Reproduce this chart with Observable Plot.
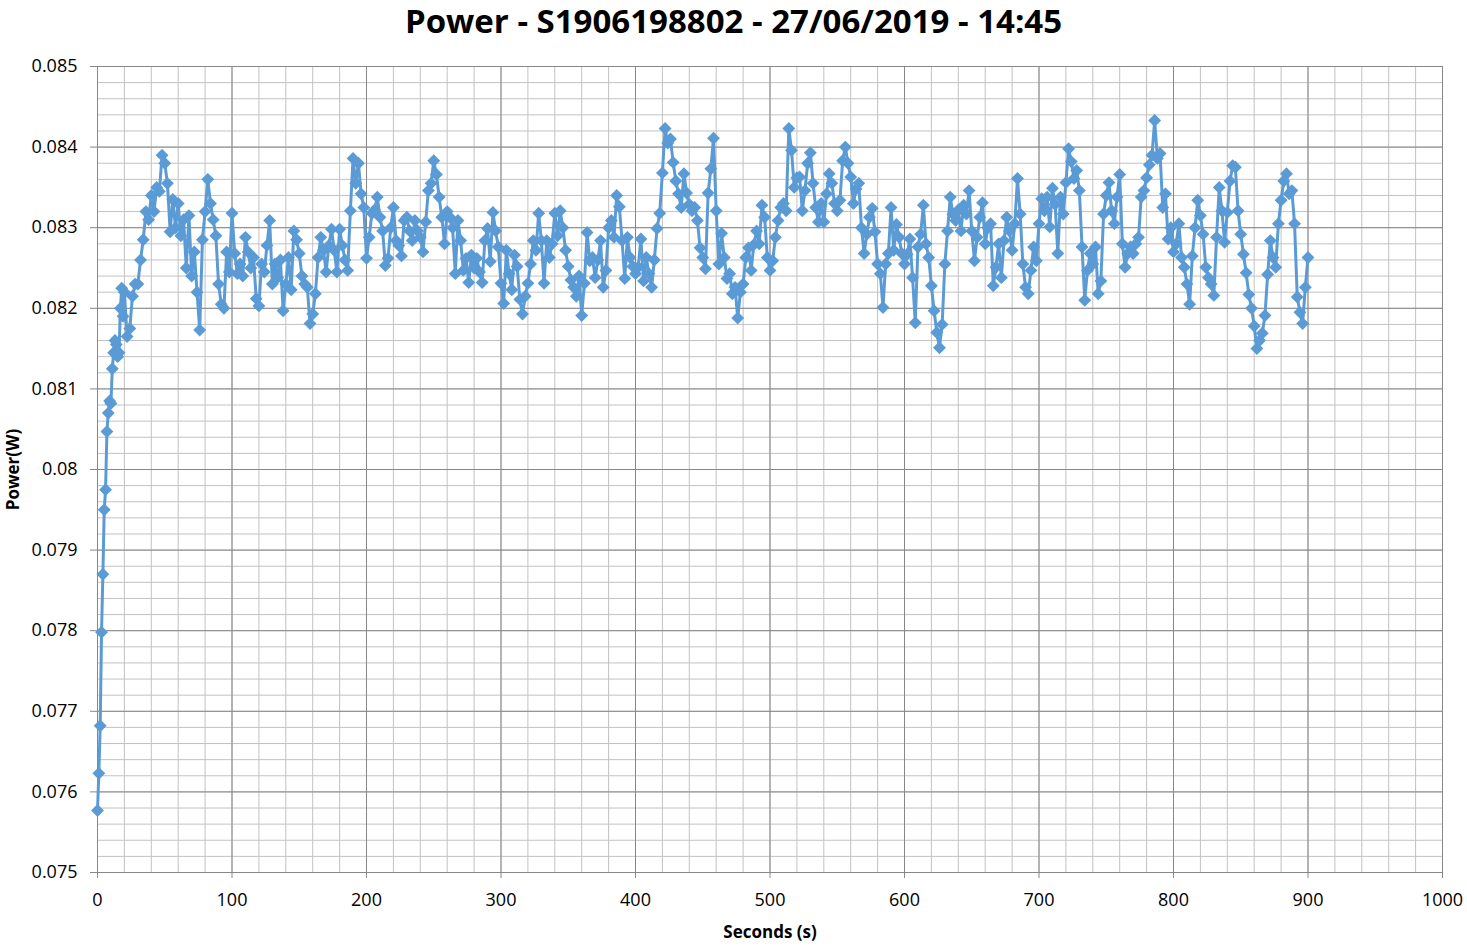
<!DOCTYPE html>
<html><head><meta charset="utf-8">
<script src="https://cdn.jsdelivr.net/npm/d3@7"></script>
<script src="https://cdn.jsdelivr.net/npm/@observablehq/plot@0.6"></script>
<style>
body{margin:0;background:#fff;font-family:"Open Sans",sans-serif;}
#title{height:46px;line-height:42px;text-align:center;font-weight:bold;font-size:33px;color:#000;white-space:nowrap;overflow:visible;}
</style></head><body>
<div id="title">Power - S1906198802 - 27/06/2019 - 14:45</div>
<div id="chart"></div>
<script>
// Power in mW, 1-second samples for t = 0..19 s
const rampPower_mW = [75.77, 76.23, 76.82, 77.98, 78.7, 79.5, 79.75, 80.47, 80.7, 80.85,
  80.82, 81.25, 81.45, 81.6, 81.55, 81.4, 81.45, 82.0, 82.25, 81.9];
// Power in mW, 2-second samples for t = 20..900 s
const power_mW = [
  82.2, 81.65, 81.75, 82.15, 82.3, 82.3, 82.6, 82.85, 83.2, 83.1,      // 20
  83.4, 83.2, 83.5, 83.45, 83.9, 83.8, 83.55, 82.95, 83.35, 83.0,      // 40
  83.3, 82.9, 83.1, 82.5, 83.15, 82.4, 82.7, 82.2, 81.73, 82.85,       // 60
  83.2, 83.6, 83.3, 83.1, 82.9, 82.3, 82.05, 82.0, 82.7, 82.45,        // 80
  83.18, 82.68, 82.43, 82.55, 82.4, 82.88, 82.7, 82.5, 82.63, 82.12,   // 100
  82.03, 82.55, 82.45, 82.78, 83.09, 82.3, 82.55, 82.38, 82.6, 81.97,  // 120
  82.3, 82.63, 82.23, 82.96, 82.85, 82.68, 82.4, 82.3, 82.26, 81.81,   // 140
  81.93, 82.18, 82.63, 82.88, 82.72, 82.45, 82.78, 82.98, 82.72, 82.45,// 160
  82.98, 82.78, 82.6, 82.47, 83.21, 83.86, 83.55, 83.8, 83.42, 83.25,  // 180
  82.62, 82.88, 83.18, 83.22, 83.38, 83.13, 82.96, 82.53, 82.62, 83.0, // 200
  83.25, 82.84, 82.78, 82.65, 83.09, 83.13, 82.96, 82.84, 83.09, 82.96,// 220
  82.88, 82.7, 83.07, 83.46, 83.55, 83.83, 83.66, 83.38, 83.13, 82.8,  // 240
  83.2, 83.13, 83.0, 82.43, 83.09, 82.84, 82.47, 82.62, 82.32, 82.66,  // 260
  82.5, 82.62, 82.45, 82.32, 82.84, 82.99, 82.58, 83.19, 82.96, 82.76, // 280
  82.31, 82.06, 82.72, 82.43, 82.23, 82.66, 82.52, 82.11, 81.93, 82.15,// 300
  82.31, 82.55, 82.84, 82.72, 83.18, 82.84, 82.31, 82.84, 82.63, 82.8, // 320
  83.18, 82.9, 83.21, 83.0, 82.72, 82.52, 82.35, 82.26, 82.15, 82.4,   // 340
  81.91, 82.31, 82.94, 82.59, 82.63, 82.38, 82.6, 82.84, 82.26, 82.47, // 360
  83.0, 83.09, 82.88, 83.4, 83.26, 82.84, 82.37, 82.88, 82.63, 82.52,  // 380
  82.43, 82.51, 82.86, 82.34, 82.63, 82.43, 82.26, 82.6, 82.99, 83.18, // 400
  83.68, 84.23, 84.05, 84.1, 83.81, 83.58, 83.42, 83.25, 83.67, 83.43, // 420
  83.29, 83.21, 83.25, 83.09, 82.75, 82.63, 82.49, 83.43, 83.73, 84.11,// 440
  83.21, 82.55, 82.93, 82.63, 82.37, 82.43, 82.18, 82.26, 81.88, 82.2, // 460
  82.3, 82.63, 82.75, 82.47, 82.79, 82.96, 82.8, 83.28, 83.13, 82.63,  // 480
  82.47, 82.59, 82.88, 83.09, 83.25, 83.3, 83.21, 84.23, 83.96, 83.5,  // 500
  83.62, 83.63, 83.21, 83.46, 83.8, 83.93, 83.55, 83.25, 83.07, 83.3,  // 520
  83.07, 83.42, 83.67, 83.55, 83.3, 83.21, 83.34, 83.83, 84.0, 83.8,   // 540
  83.63, 83.3, 83.48, 83.55, 83.0, 82.68, 82.92, 83.13, 83.24, 82.95,  // 560
  82.55, 82.43, 82.01, 82.55, 82.68, 83.25, 82.72, 83.04, 82.88, 82.68,// 580
  82.55, 82.67, 82.86, 82.38, 81.82, 82.76, 82.92, 83.28, 82.8, 82.63, // 600
  82.28, 81.97, 81.7, 81.51, 81.8, 82.55, 82.96, 83.38, 83.17, 83.09,  // 620
  83.22, 82.96, 83.28, 83.17, 83.46, 82.96, 82.59, 82.88, 83.13, 83.31,// 640
  82.8, 83.0, 83.05, 82.28, 82.51, 82.8, 82.38, 82.84, 83.13, 82.96,   // 660
  82.72, 83.05, 83.61, 83.17, 82.55, 82.26, 82.18, 82.47, 82.76, 82.59,// 680
  83.05, 83.36, 83.21, 83.38, 83.01, 83.49, 83.29, 82.68, 83.38, 83.17,// 700
  83.56, 83.98, 83.82, 83.61, 83.71, 83.46, 82.76, 82.1, 82.47, 82.68, // 720
  82.55, 82.76, 82.18, 82.34, 83.17, 83.4, 83.56, 83.21, 83.05, 83.38, // 740
  83.66, 82.8, 82.51, 82.68, 82.76, 82.68, 82.8, 82.88, 83.38, 83.46,  // 760
  83.62, 83.78, 83.9, 84.33, 83.86, 83.92, 83.25, 83.42, 82.86, 83.0,  // 780
  82.7, 82.8, 83.05, 82.63, 82.51, 82.3, 82.05, 82.65, 83.0, 83.34,    // 800
  83.15, 82.92, 82.51, 82.38, 82.3, 82.16, 82.88, 83.5, 83.21, 82.82,  // 820
  83.19, 83.58, 83.77, 83.75, 83.21, 82.92, 82.67, 82.44, 82.17, 82.0, // 840
  81.78, 81.5, 81.6, 81.69, 81.91, 82.42, 82.84, 82.63, 82.51, 83.05,  // 860
  83.34, 83.58, 83.67, 83.42, 83.46, 83.05, 82.14, 81.95, 81.81, 82.26,// 880
  82.63                                                                 // 900
];
const xTicks = [0, 100, 200, 300, 400, 500, 600, 700, 800, 900, 1000];
const yTicks = [0.075, 0.076, 0.077, 0.078, 0.079, 0.08, 0.081, 0.082, 0.083, 0.084, 0.085];
const yTickLabels = ["0.075", "0.076", "0.077", "0.078", "0.079", "0.08", "0.081", "0.082", "0.083", "0.084", "0.085"];
const xMinor = d3.range(0, 1001, 20);
const yMinor = d3.range(0, 51).map(i => 0.075 + i * 0.0002);

const data = [
  ...rampPower_mW.map((p, i) => ({t: i, p: p / 1000})),
  ...power_mW.map((p, i) => ({t: 20 + 2 * i, p: p / 1000}))
];

const blue = "#5B9BD5";
const chart = Plot.plot({
  width: 1467, height: 900,
  marginTop: 20, marginBottom: 74, marginLeft: 97, marginRight: 25,
  style: {fontFamily: "'Open Sans', sans-serif", fontSize: "18px", color: "#000", background: "#fff", overflow: "visible"},
  x: {domain: [0, 1000]},
  y: {domain: [0.075, 0.085]},
  marks: [
    Plot.ruleX(xMinor, {stroke: "#c2c2c2", strokeWidth: 1}),
    Plot.ruleY(yMinor, {stroke: "#c2c2c2", strokeWidth: 1}),
    Plot.ruleX(xTicks, {stroke: "#878787", strokeWidth: 1}),
    Plot.ruleY(yTicks, {stroke: "#878787", strokeWidth: 1}),
    Plot.axisX({ticks: xTicks, tickSize: 6, tickPadding: 15, label: null, stroke: "#878787", fill: "#000", tickFormat: d => String(d)}),
    Plot.axisY({ticks: yTicks, tickSize: 7, tickPadding: 13, label: null, stroke: "#878787", fill: "#000",
      tickFormat: d => yTickLabels[yTicks.indexOf(d)]}),
    Plot.line(data, {x: "t", y: "p", stroke: blue, strokeWidth: 3}),
    Plot.dot(data, {x: "t", y: "p", symbol: "diamond2", r: 5.8, fill: blue, stroke: "none"}),
    Plot.text(["Seconds (s)"], {frameAnchor: "bottom", dy: 65, fontWeight: "bold", fontSize: 17, fill: "#000"}),
    Plot.text(["Power(W)"], {frameAnchor: "left", textAnchor: "middle", dx: -84, rotate: -90, fontWeight: "bold", fontSize: 17, fill: "#000"})
  ]
});
document.getElementById("chart").appendChild(chart);
</script>
</body></html>
